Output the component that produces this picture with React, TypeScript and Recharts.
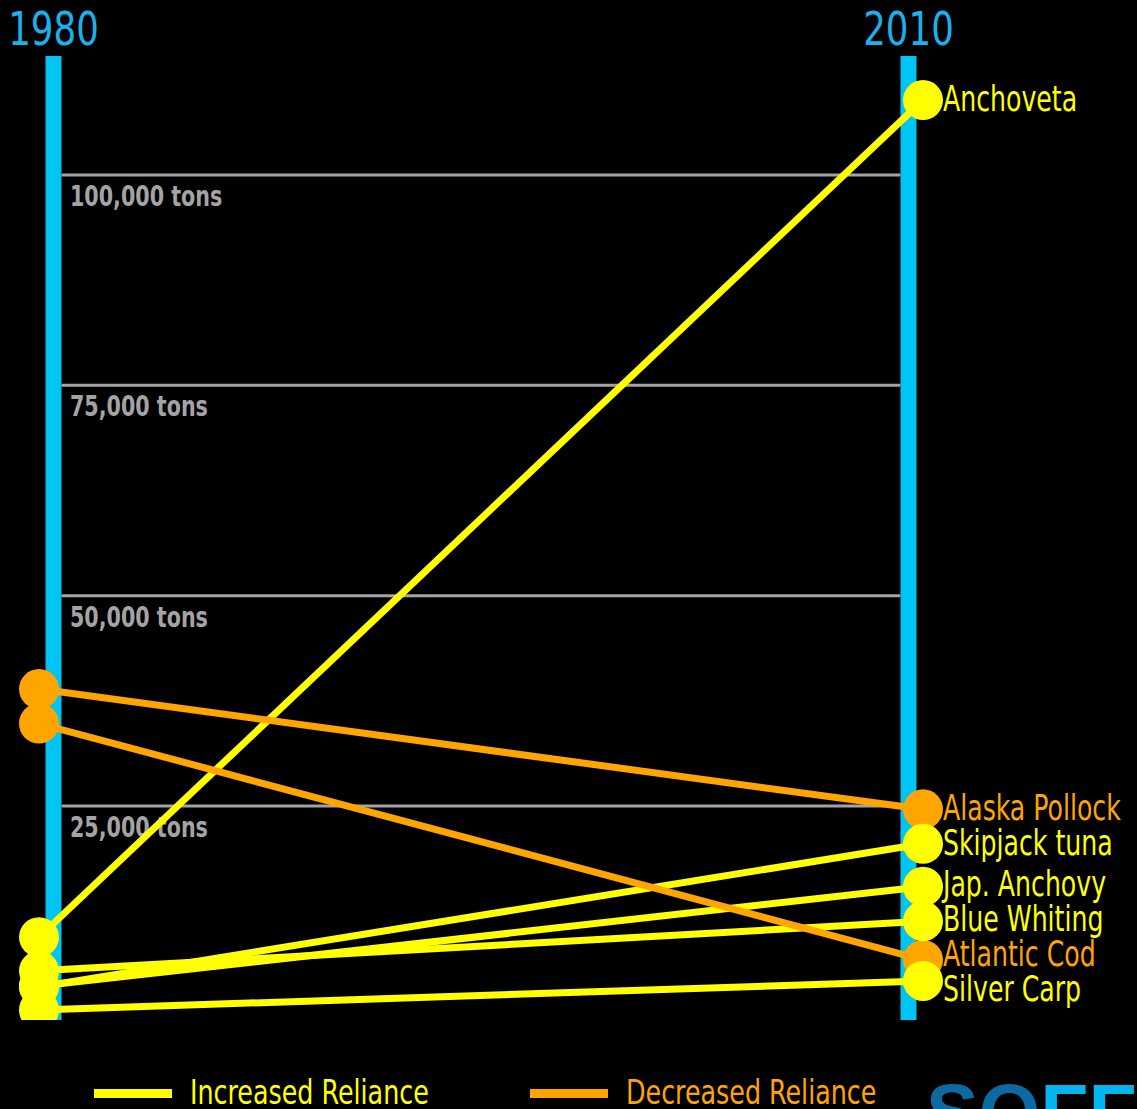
import { LabelList, Line, LineChart, ReferenceLine, XAxis, YAxis } from "recharts";

// catch per species, tons
const years = [1980, 2010];
const species = [
  "Anchoveta",
  "Alaska Pollock",
  "Atlantic Cod",
  "Skipjack tuna",
  "Jap. Anchovy",
  "Blue Whiting",
  "Silver Carp",
];
const tons1980 = [9400, 38900, 34800, 3500, 3600, 5400, 750];
const tons2010 = [108900, 24600, 6700, 20500, 15400, 11300, 4200];
const gridTicks = [25000, 50000, 75000, 100000];
const legendLabels = ["Increased Reliance", "Decreased Reliance"];

const W = 1137;
const H = 1109;
const MARGIN = { top: 56, right: 214, bottom: 89, left: 39 };
const Y_DOMAIN: [number, number] = [-440, 114140];
const PX_PER_TON = (H - MARGIN.top - MARGIN.bottom) / (Y_DOMAIN[1] - Y_DOMAIN[0]);

const YELLOW = "#ffff00";
const ORANGE = "#ffa500";
const AXIS_BLUE = "#00c4f4";
const YEAR_BLUE = "#1ab2ec";
const GRID_GRAY = "#a4a4a4";
const BAR_INSET = 14.5;
const BAR_W = 16;
const FONT = "'DejaVu Sans', sans-serif";

const increased = species.map((_, i) => tons2010[i] >= tons1980[i]);
const colorOf = (i: number) => (increased[i] ? YELLOW : ORANGE);

const data = years.map((year, yi) => {
  const row: Record<string, number> = { year };
  species.forEach((_, i) => {
    row[`k${i}`] = yi === 0 ? tons1980[i] : tons2010[i];
  });
  return row;
});

// push the 2010 labels apart so they don't collide
function spreadLabels(values: number[], minGap: number) {
  const order = values.map((v, i) => i).sort((a, b) => values[b] - values[a]);
  const pos = values.slice();
  for (let iter = 0; iter < 60; iter++) {
    for (let k = 0; k < order.length - 1; k++) {
      const a = order[k];
      const b = order[k + 1];
      const gap = pos[a] - pos[b];
      if (gap < minGap) {
        const d = (minGap - gap) / 2;
        pos[a] += d;
        pos[b] -= d;
      }
    }
  }
  return pos;
}
const labelTons = spreadLabels(tons2010, 35 / PX_PER_TON);

// strokes: yellow then orange on top; dots: orange then yellow on top
const lineOrder = species.map((_, i) => i).sort((a, b) => Number(!increased[a]) - Number(!increased[b]));
const dotOrder = species.map((_, i) => i).sort((a, b) => Number(increased[a]) - Number(increased[b]));

// condensed-looking text: squeeze the glyphs horizontally
function NarrowText({ x, y, sx, children, ...rest }: any) {
  return (
    <text transform={`translate(${x},${y}) scale(${sx},1)`} fontFamily={FONT} fontStretch="condensed" {...rest}>
      {children}
    </text>
  );
}

function GridShape(props: any) {
  const x1 = Math.min(props.x1, props.x2) + BAR_INSET + BAR_W / 2;
  const x2 = Math.max(props.x1, props.x2) - BAR_INSET - BAR_W / 2;
  return <line x1={x1} x2={x2} y1={props.y1} y2={props.y2} stroke={GRID_GRAY} strokeWidth={3} />;
}

function makeBarShape(dir: number) {
  return (props: any) => {
    const top = Math.min(props.y1, props.y2);
    const h = Math.abs(props.y2 - props.y1);
    return <rect x={props.x1 + dir * BAR_INSET - BAR_W / 2} y={top} width={BAR_W} height={h} fill={AXIS_BLUE} />;
  };
}

export default function App() {
  return (
    <div style={{ position: "absolute", left: 0, top: 0, width: W, height: H, background: "#000", overflow: "hidden" }}>
      <LineChart width={W} height={H} data={data} margin={MARGIN}>
        <XAxis type="number" dataKey="year" domain={[years[0], years[1]]} hide />
        <YAxis type="number" domain={Y_DOMAIN} allowDataOverflow hide />

        {gridTicks.map((t) => (
          <ReferenceLine
            key={t}
            y={t}
            shape={GridShape}
            label={(p: any) => (
              <NarrowText
                x={p.viewBox.x + 31}
                y={p.viewBox.y + 31}
                sx={0.82}
                fill={GRID_GRAY}
                fontWeight="bold"
                fontSize={28}
              >
                {`${t.toLocaleString("en-US")} tons`}
              </NarrowText>
            )}
          />
        ))}

        {years.map((yr, yi) => {
          const dir = yi === 0 ? 1 : -1;
          return (
            <ReferenceLine
              key={yr}
              x={yr}
              shape={makeBarShape(dir)}
              label={(p: any) => (
                <NarrowText
                  x={p.viewBox.x + dir * BAR_INSET}
                  y={p.viewBox.y - 11}
                  sx={0.86}
                  textAnchor="middle"
                  fill={YEAR_BLUE}
                  fontSize={46}
                >
                  {yr}
                </NarrowText>
              )}
            />
          );
        })}

        {lineOrder.map((i) => (
          <Line
            key={`line-${i}`}
            type="linear"
            dataKey={`k${i}`}
            stroke={colorOf(i)}
            strokeWidth={7}
            dot={false}
            activeDot={false}
            isAnimationActive={false}
          />
        ))}

        {dotOrder.map((i) => (
          <Line
            key={`dot-${i}`}
            type="linear"
            dataKey={`k${i}`}
            stroke="none"
            strokeWidth={0}
            dot={{ r: 20, fill: colorOf(i), stroke: "none" }}
            activeDot={false}
            isAnimationActive={false}
          >
            <LabelList
              dataKey={`k${i}`}
              content={(p: any) => {
                if (p.index !== 1) return null;
                const shift = (tons2010[i] - labelTons[i]) * PX_PER_TON;
                return (
                  <NarrowText x={p.x + 20} y={p.y + shift + 11} sx={0.8} fill={colorOf(i)} fontSize={35}>
                    {species[i]}
                  </NarrowText>
                );
              }}
            />
          </Line>
        ))}
      </LineChart>

      <svg width={W} height={H - 1060} style={{ position: "absolute", left: 0, top: 1060 }}>
        {legendLabels.map((label, k) => {
          const x0 = k === 0 ? 94 : 530;
          return (
            <g key={label}>
              <rect x={x0} y={29} width={78} height={9} fill={k === 0 ? YELLOW : ORANGE} />
              <NarrowText x={x0 + 96} y={44} sx={0.83} fill={k === 0 ? YELLOW : ORANGE} fontSize={34}>
                {label}
              </NarrowText>
            </g>
          );
        })}
        <text x={926} y={80} fontFamily="'Liberation Sans', Arial, sans-serif" fontWeight="bold" fontSize={79}>
          <tspan fill="#0b6aa2">SO</tspan>
          <tspan fill="#00b5f0">FF</tspan>
        </text>
      </svg>
    </div>
  );
}
